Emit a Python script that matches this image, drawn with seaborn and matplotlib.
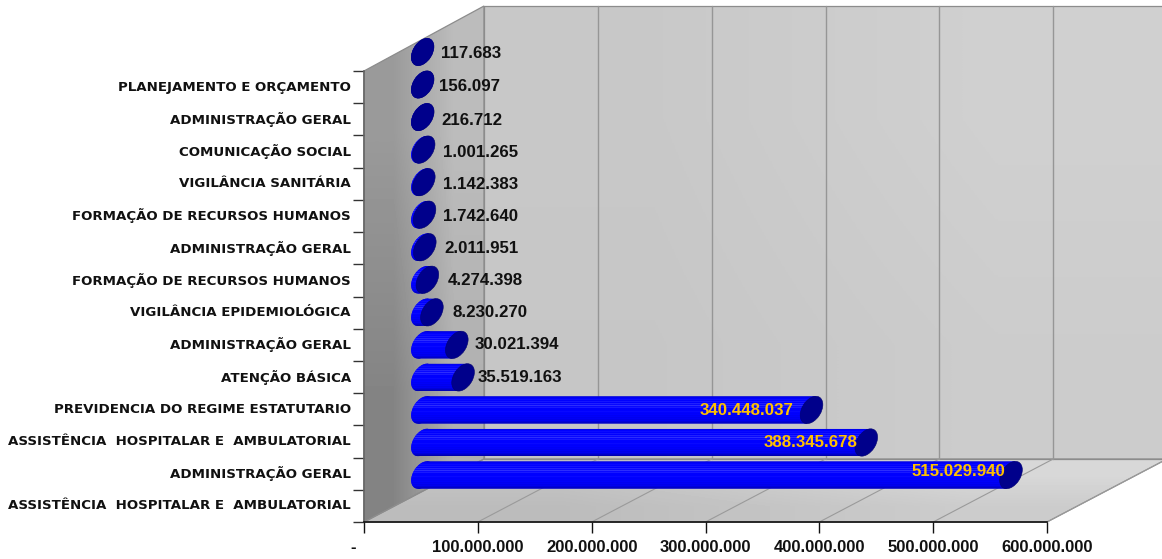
import numpy as np
import pandas as pd
import matplotlib
matplotlib.use("Agg")
import matplotlib.pyplot as plt
import seaborn as sns
from matplotlib.patches import Ellipse, Polygon
from matplotlib.transforms import Affine2D
from matplotlib.colors import ListedColormap

# ---- data (top of chart to bottom) ----
programas = ["PLANEJAMENTO E ORÇAMENTO", "ADMINISTRAÇÃO GERAL", "COMUNICAÇÃO SOCIAL",
             "VIGILÂNCIA SANITÁRIA", "FORMAÇÃO DE RECURSOS HUMANOS", "ADMINISTRAÇÃO GERAL",
             "FORMAÇÃO DE RECURSOS HUMANOS", "VIGILÂNCIA EPIDEMIOLÓGICA", "ADMINISTRAÇÃO GERAL",
             "ATENÇÃO BÁSICA", "PREVIDENCIA DO REGIME ESTATUTARIO",
             "ASSISTÊNCIA  HOSPITALAR E  AMBULATORIAL", "ADMINISTRAÇÃO GERAL",
             "ASSISTÊNCIA  HOSPITALAR E  AMBULATORIAL"]
valores = [117683, 156097, 216712, 1001265, 1142383, 1742640, 2011951,
           4274398, 8230270, 30021394, 35519163, 340448037, 388345678, 515029940]
x_ticks = [0, 100000000, 200000000, 300000000, 400000000, 500000000, 600000000]
x_tick_labels = ["-", "100.000.000", "200.000.000", "300.000.000",
                 "400.000.000", "500.000.000", "600.000.000"]

# ---- label placement and style (pixels) ----
label_dx = [18.4, 16.3, 18.3, 19.4, 19.2, 18.5, 19.2, 20.6, 20.1, 18.3, 14.1, -18, -8.6, -6]
label_dy = [-2, -2, -3, -3, -2, -2, -1, -1, 0, 0, 0, -1, -0.5, 3.5]
stripe_colors = ["#0000d0", "#0000f0", "#0000ff", "#0a0aff", "#0000ff", "#1414ff", "#0000ff",
                 "#2020ff", "#0808ff", "#2c2cff", "#0808ff", "#1818ff", "#0000ff", "#0000ff",
                 "#0808ff", "#0000ff", "#0000fa", "#0000ff", "#0000f4", "#0000fa", "#0000ee",
                 "#0000f6", "#0000e8", "#0000f0", "#0000dc", "#0000c8", "#0000b0"]
W, H = 1162, 559
sns.set_theme(style="white")
plt.rcParams["font.family"] = ["Liberation Sans"]
fig = plt.figure(figsize=(W / 100, H / 100), dpi=100, facecolor="white")

def box(l, t, r, b):
    return [l / W, 1 - b / H, (r - l) / W, (b - t) / H]

# background walls
bg = fig.add_axes([0, 0, 1, 1], zorder=0)
bg.set_xlim(0, W); bg.set_ylim(H, 0); bg.axis("off"); bg.set_autoscale_on(False)
AX_L, AX_R, AX_B, AX_T = 364, 1047, 522, 71
DX, DY = 120, 63

def wall(pts, grads, ext):
    im = bg.imshow(grads, extent=ext, cmap="gray", vmin=0, vmax=255, aspect="auto",
                   interpolation="bilinear", zorder=1)
    p = Polygon(pts, closed=True, fc="none", ec="#8c8c8c", lw=0.9, zorder=2)
    bg.add_patch(p)
    im.set_clip_path(p.get_path(), p.get_transform())

wall([(AX_L, AX_T), (AX_L + DX, 6), (AX_L + DX, AX_B - DY), (AX_L, AX_B)],
     [[0x9a, 0xbc], [0x84, 0xb0]], (AX_L, AX_L + DX, AX_B, 6))
wall([(AX_L + DX, 6), (1170, 6), (1170, AX_B - DY), (AX_L + DX, AX_B - DY)],
     [[0xc8, 0xd0], [0xc6, 0xcc]], (AX_L + DX, 1170, AX_B - DY, 6))
wall([(AX_L, AX_B), (AX_L + DX, AX_B - DY), (AX_R + DX, AX_B - DY), (AX_R, AX_B)],
     [[0xc4, 0xd8], [0xbc, 0xcc]], (AX_L, AX_R + DX, AX_B, AX_B - DY))
for k in range(1, 7):
    fx = AX_L + k * (AX_R - AX_L) / 6
    bg.plot([fx + DX, fx + DX], [6, AX_B - DY], color="#969696", lw=1.0, zorder=3)
    bg.plot([fx, fx + DX], [AX_B, AX_B - DY], color="#9a9a9a", lw=0.8, zorder=3)

# axes with ticks and labels
ax = fig.add_axes(box(AX_L, AX_T, AX_R, AX_B), zorder=1)
ax.patch.set_visible(False)
ax.set_xlim(0, 6e8); ax.set_ylim(len(programas), 0)
sns.despine(ax=ax, top=True, right=True)
ax.spines["left"].set_color("#666666"); ax.spines["left"].set_linewidth(1.2)
ax.spines["bottom"].set_color("#111111"); ax.spines["bottom"].set_linewidth(1.2)
ax.set_xticks(x_ticks, x_tick_labels)
ax.tick_params(axis="x", length=7.9, width=1.0, color="#111111", pad=5.0, labelsize=12.0,
               labelcolor="#111111", bottom=True)
for t in ax.get_xticklabels():
    t.set_fontweight("bold")
ax.get_xticklabels()[0].set_transform(ax.get_xticklabels()[0].get_transform()
                                      + Affine2D().translate(-11, 0))
ax.set_yticks(np.arange(len(programas)) + 0.5, programas)
ax.set_yticks(np.arange(len(programas) + 1), minor=True)
ax.tick_params(axis="y", which="major", length=0, pad=9.4, labelsize=9.6, labelcolor="#111111")
ax.tick_params(axis="y", which="minor", length=7.9, width=1.0, color="#333333", left=True)
for t in ax.get_yticklabels():
    t.set_fontweight("bold")
    t.set_family(["DejaVu Sans"])
    t.set_transform(t.get_transform() + Affine2D().translate(0, 1.5))

# bars, shifted into the chart's depth
BAR_L, BAR_R, BAR_T, BAR_B = 422.5, 422.5 + 685.6, 35.7, 491.3
axb = fig.add_axes(box(BAR_L, BAR_T, BAR_R, BAR_B), zorder=2)
axb.patch.set_visible(False)
df = pd.DataFrame({"valor": valores, "ordem": np.arange(len(valores))})
sns.barplot(data=df, x="valor", y="ordem", orient="h", native_scale=True, width=0.83,
            color="#0000ff", saturation=1, errorbar=None, ax=axb, zorder=4)
axb.set_xlim(0, 6e8); axb.set_ylim(len(valores) - 0.5, -0.5)
axb.set_autoscale_on(False)
axb.axis("off")

SHEAR = 0.32
EA, EB, ANG = 30, 19, 58
stripes = np.arange(len(stripe_colors)).reshape(-1, 1)
cmap = ListedColormap(stripe_colors)
margin = 14 / (685.6 / 6e8)
for i, (v, patch) in enumerate(zip(valores, axb.patches)):
    cx0, cy = axb.transData.transform((0, i))
    cx1, _ = axb.transData.transform((v, i))
    shear = Affine2D.from_values(1, 0, SHEAR, 1, -SHEAR * cy, 0)
    patch.set_transform(axb.transData + shear)
    patch.set_linewidth(0)
    patch.set_clip_on(False)
    ext = (-margin, v + margin, i + 0.43, i - 0.43)
    start = Ellipse((0, 0), EA, EB, angle=ANG, fc="#0000ff", ec="none",
                    transform=Affine2D().translate(cx0, cy), zorder=3, clip_on=False)
    axb.add_patch(start)
    for clipper in (patch, start):
        im = axb.imshow(stripes, extent=ext, cmap=cmap, aspect="auto", origin="upper",
                        interpolation="nearest", zorder=5)
        im.set_clip_box(fig.bbox)
        im.set_clip_path(clipper.get_path(), clipper.get_transform())
    axb.add_patch(Ellipse((0, 0), EA, EB, angle=ANG, fc="#00008b", ec="#00006e", lw=0.4,
                          transform=Affine2D().translate(cx1, cy), zorder=6, clip_on=False))
    big = v > 1e8
    axb.annotate(f"{v:,}".replace(",", "."), xy=(v, i), xytext=(label_dx[i], label_dy[i]),
                 textcoords="offset pixels", ha="right" if big else "left", va="center",
                 fontsize=12.2, fontweight="bold", color="#ffc000" if big else "#111111",
                 zorder=7, annotation_clip=False)

fig.savefig("out.png", dpi=100, facecolor="white")
